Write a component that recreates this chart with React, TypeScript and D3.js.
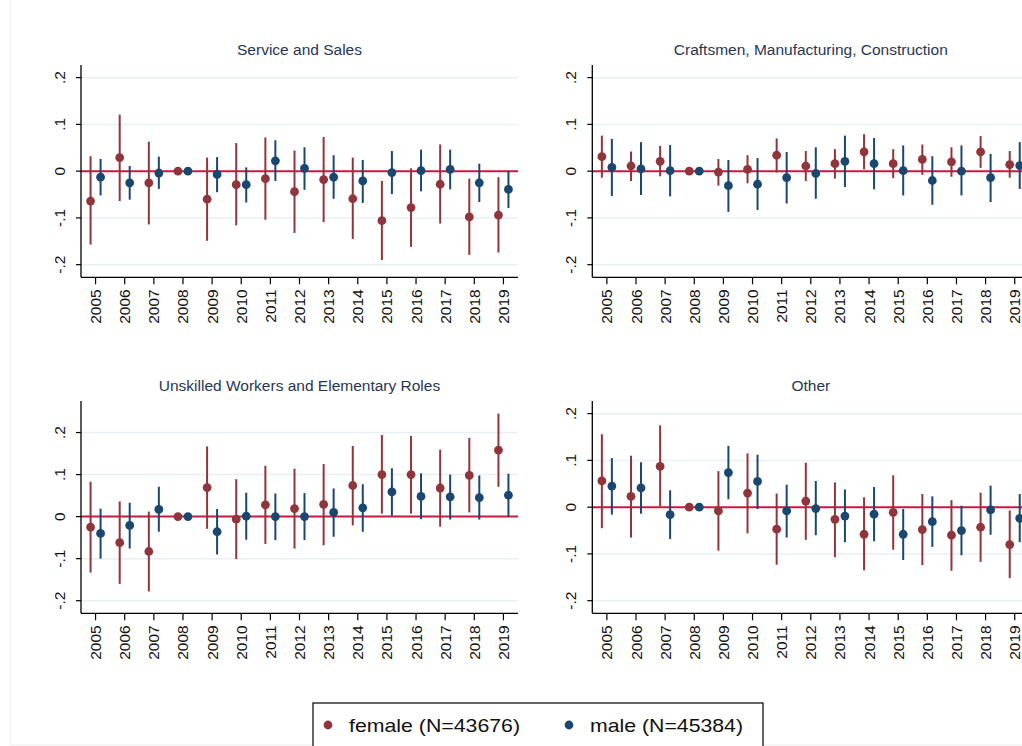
import React from "react";
import * as d3 from "d3";

// Survey years on the x axis
const years = [2005, 2006, 2007, 2008, 2009, 2010, 2011, 2012, 2013, 2014, 2015, 2016, 2017, 2018, 2019];

// Panel titles
const panelTitles = [
  "Service and Sales",
  "Craftsmen, Manufacturing, Construction",
  "Unskilled Workers and Elementary Roles",
  "Other",
];

// Coefficients and 95% CI bounds by panel (2008 = reference year, no interval)
// Service and Sales
const serviceFemale = [-0.064, 0.029, -0.025, 0, -0.06, -0.029, -0.016, -0.044, -0.018, -0.059, -0.106, -0.078, -0.028, -0.098, -0.094];
const serviceFemaleLo = [-0.157, -0.064, -0.114, 0, -0.149, -0.116, -0.104, -0.132, -0.109, -0.145, -0.19, -0.162, -0.112, -0.179, -0.174];
const serviceFemaleHi = [0.032, 0.121, 0.063, 0, 0.029, 0.06, 0.072, 0.044, 0.073, 0.029, -0.021, 0.006, 0.057, -0.016, -0.013];
const serviceMale = [-0.013, -0.025, -0.004, 0, -0.007, -0.029, 0.022, 0.006, -0.013, -0.021, -0.003, 0.001, 0.004, -0.025, -0.039];
const serviceMaleLo = [-0.052, -0.061, -0.038, 0, -0.045, -0.067, -0.021, -0.04, -0.059, -0.068, -0.049, -0.043, -0.039, -0.066, -0.079];
const serviceMaleHi = [0.026, 0.011, 0.031, 0, 0.03, 0.008, 0.066, 0.051, 0.034, 0.024, 0.043, 0.046, 0.046, 0.016, 0.0];

// Craftsmen, Manufacturing, Construction
const craftFemale = [0.031, 0.011, 0.021, 0, -0.002, 0.004, 0.034, 0.011, 0.016, 0.041, 0.016, 0.025, 0.02, 0.041, 0.014];
const craftFemaleLo = [-0.014, -0.021, -0.011, 0, -0.031, -0.026, -0.003, -0.021, -0.016, 0.004, -0.015, -0.008, -0.012, 0.007, -0.014];
const craftFemaleHi = [0.076, 0.042, 0.054, 0, 0.026, 0.034, 0.07, 0.043, 0.047, 0.079, 0.047, 0.057, 0.051, 0.075, 0.043];
const craftMale = [0.008, 0.005, 0.001, 0, -0.031, -0.028, -0.014, -0.005, 0.021, 0.016, 0.001, -0.02, 0, -0.014, 0.012];
const craftMaleLo = [-0.053, -0.051, -0.054, 0, -0.087, -0.083, -0.069, -0.059, -0.034, -0.039, -0.052, -0.072, -0.052, -0.066, -0.038];
const craftMaleHi = [0.069, 0.062, 0.056, 0, 0.024, 0.028, 0.041, 0.051, 0.076, 0.071, 0.055, 0.032, 0.055, 0.037, 0.062];

// Unskilled Workers and Elementary Roles
const unskilledFemale = [-0.025, -0.062, -0.083, 0, 0.069, -0.006, 0.028, 0.019, 0.029, 0.074, 0.1, 0.1, 0.068, 0.098, 0.158];
const unskilledFemaleLo = [-0.133, -0.16, -0.178, 0, -0.029, -0.101, -0.065, -0.076, -0.068, -0.021, 0.007, 0.007, -0.024, 0.01, 0.071];
const unskilledFemaleHi = [0.083, 0.036, 0.012, 0, 0.167, 0.089, 0.121, 0.114, 0.125, 0.168, 0.194, 0.192, 0.159, 0.187, 0.245];
const unskilledMale = [-0.04, -0.021, 0.017, 0, -0.036, 0.001, 0, 0, 0.01, 0.021, 0.059, 0.048, 0.047, 0.045, 0.051];
const unskilledMaleLo = [-0.1, -0.076, -0.036, 0, -0.09, -0.055, -0.056, -0.056, -0.048, -0.036, 0.002, -0.006, -0.007, -0.007, 0.0];
const unskilledMaleHi = [0.019, 0.033, 0.071, 0, 0.018, 0.057, 0.055, 0.056, 0.067, 0.077, 0.115, 0.103, 0.1, 0.098, 0.102];

// Other
const otherFemale = [0.056, 0.023, 0.087, 0, -0.008, 0.03, -0.047, 0.013, -0.026, -0.058, -0.011, -0.048, -0.06, -0.043, -0.08];
const otherFemaleLo = [-0.045, -0.065, 0.002, 0, -0.093, -0.056, -0.123, -0.07, -0.107, -0.135, -0.091, -0.124, -0.136, -0.117, -0.152];
const otherFemaleHi = [0.156, 0.11, 0.175, 0, 0.077, 0.115, 0.029, 0.095, 0.053, 0.021, 0.068, 0.028, 0.015, 0.031, -0.007];
const otherMale = [0.045, 0.041, -0.016, 0, 0.074, 0.055, -0.008, -0.003, -0.019, -0.015, -0.058, -0.031, -0.05, -0.006, -0.024];
const otherMaleLo = [-0.016, -0.014, -0.068, 0, 0.017, -0.004, -0.065, -0.06, -0.075, -0.073, -0.113, -0.085, -0.103, -0.059, -0.075];
const otherMaleHi = [0.105, 0.096, 0.036, 0, 0.131, 0.112, 0.048, 0.056, 0.038, 0.043, -0.004, 0.023, 0.003, 0.046, 0.028];

// Y axis ticks and legend labels
const yTicks = [-0.2, -0.1, 0, 0.1, 0.2];
const yTickLabels = ["-.2", "-.1", "0", ".1", ".2"];
const legendLabels = ["female (N=43676)", "male (N=45384)"];

const FEMALE = "#90353B";
const MALE = "#1A476F";
const ZERO = "#C8193F";
const GRID = "#E9F0F3";
const TITLE = "#283654";
const FONT = "'Liberation Sans', Arial, Helvetica, sans-serif";

type Series = { est: number[]; lo: number[]; hi: number[] };

const panels: {
  title: string;
  left: number;
  top: number;
  yDomain: [number, number];
  female: Series;
  male: Series;
}[] = [
  {
    title: panelTitles[0], left: 81, top: 65, yDomain: [-0.227, 0.227],
    female: { est: serviceFemale, lo: serviceFemaleLo, hi: serviceFemaleHi },
    male: { est: serviceMale, lo: serviceMaleLo, hi: serviceMaleHi },
  },
  {
    title: panelTitles[1], left: 592.3, top: 65, yDomain: [-0.227, 0.227],
    female: { est: craftFemale, lo: craftFemaleLo, hi: craftFemaleHi },
    male: { est: craftMale, lo: craftMaleLo, hi: craftMaleHi },
  },
  {
    title: panelTitles[2], left: 81, top: 401, yDomain: [-0.23, 0.275],
    female: { est: unskilledFemale, lo: unskilledFemaleLo, hi: unskilledFemaleHi },
    male: { est: unskilledMale, lo: unskilledMaleLo, hi: unskilledMaleHi },
  },
  {
    title: panelTitles[3], left: 592.3, top: 401, yDomain: [-0.227, 0.227],
    female: { est: otherFemale, lo: otherFemaleLo, hi: otherFemaleHi },
    male: { est: otherMale, lo: otherMaleLo, hi: otherMaleHi },
  },
];

const PW = 437;
const PH = 212.3;
const OFFSET = 5;

function Panel({ p }: { p: (typeof panels)[number] }) {
  const x = d3.scaleLinear().domain([2004.5, 2019.5]).range([0, PW]);
  const y = d3.scaleLinear().domain(p.yDomain).range([PH, 0]);
  const series: [Series, string, number][] = [
    [p.female, FEMALE, -OFFSET],
    [p.male, MALE, OFFSET],
  ];
  return (
    <g transform={`translate(${p.left},${p.top})`}>
      <text
        x={PW / 2}
        y={-10}
        textAnchor="middle"
        fontSize={15.5}
        fill={TITLE}
        fontFamily={FONT}
      >
        {p.title}
      </text>
      {yTicks
        .filter((t) => t !== 0)
        .map((t) => (
          <line key={t} x1={0} x2={PW} y1={y(t)} y2={y(t)} stroke={GRID} strokeWidth={1.5} />
        ))}
      <line x1={0} x2={PW} y1={y(0)} y2={y(0)} stroke={ZERO} strokeWidth={2} />
      {series.map(([s, color, dx], si) => (
        <g key={si}>
          {years.map((yr, i) =>
            s.lo[i] === s.hi[i] ? null : (
              <line
                key={yr}
                x1={x(yr) + dx}
                x2={x(yr) + dx}
                y1={y(s.lo[i])}
                y2={y(s.hi[i])}
                stroke={color}
                strokeWidth={2}
              />
            )
          )}
          {years.map((yr, i) => (
            <circle key={yr} cx={x(yr) + dx} cy={y(s.est[i])} r={4.4} fill={color} />
          ))}
        </g>
      ))}
      {/* axes */}
      <line x1={0} x2={0} y1={0} y2={PH} stroke="#000" strokeWidth={1.3} />
      <line x1={0} x2={PW} y1={PH} y2={PH} stroke="#000" strokeWidth={1.3} />
      {yTicks.map((t, i) => (
        <g key={t}>
          <line x1={-5} x2={0} y1={y(t)} y2={y(t)} stroke="#000" strokeWidth={1.2} />
          <text
            transform={`translate(${-22},${y(t)}) rotate(-90)`}
            textAnchor="middle"
            dominantBaseline="central"
            fontSize={15.5}
            fill="#111"
            fontFamily={FONT}
          >
            {yTickLabels[i]}
          </text>
        </g>
      ))}
      {years.map((yr) => (
        <g key={yr}>
          <line x1={x(yr)} x2={x(yr)} y1={PH} y2={PH + 7} stroke="#000" strokeWidth={1.2} />
          <text
            transform={`translate(${x(yr)},${PH + 12}) rotate(-90)`}
            textAnchor="end"
            dominantBaseline="central"
            fontSize={15.5}
            fill="#111"
            fontFamily={FONT}
          >
            {yr}
          </text>
        </g>
      ))}
    </g>
  );
}

export default function App() {
  return (
    <svg
      width={1022}
      height={746}
      style={{ position: "absolute", left: 0, top: 0, background: "#fff" }}
    >
      <rect x={0} y={0} width={1022} height={746} fill="#fff" />
      {/* outer graph region border */}
      <line x1={10} x2={10} y1={0} y2={745} stroke="#ECECEC" strokeWidth={1} />
      <line x1={10} x2={1022} y1={745} y2={745} stroke="#ECECEC" strokeWidth={1} />
      {panels.map((p) => (
        <Panel key={p.title} p={p} />
      ))}
      {/* legend */}
      <rect x={313} y={703} width={450} height={60} fill="#fff" stroke="#000" strokeWidth={1.2} />
      <circle cx={328} cy={725} r={4.4} fill={FEMALE} />
      <text x={349} y={732} fontSize={19} fontFamily={FONT} fill="#111" textLength={171} lengthAdjust="spacingAndGlyphs">
        {legendLabels[0]}
      </text>
      <circle cx={569} cy={725} r={4.4} fill={MALE} />
      <text x={590} y={732} fontSize={19} fontFamily={FONT} fill="#111" textLength={153} lengthAdjust="spacingAndGlyphs">
        {legendLabels[1]}
      </text>
    </svg>
  );
}
